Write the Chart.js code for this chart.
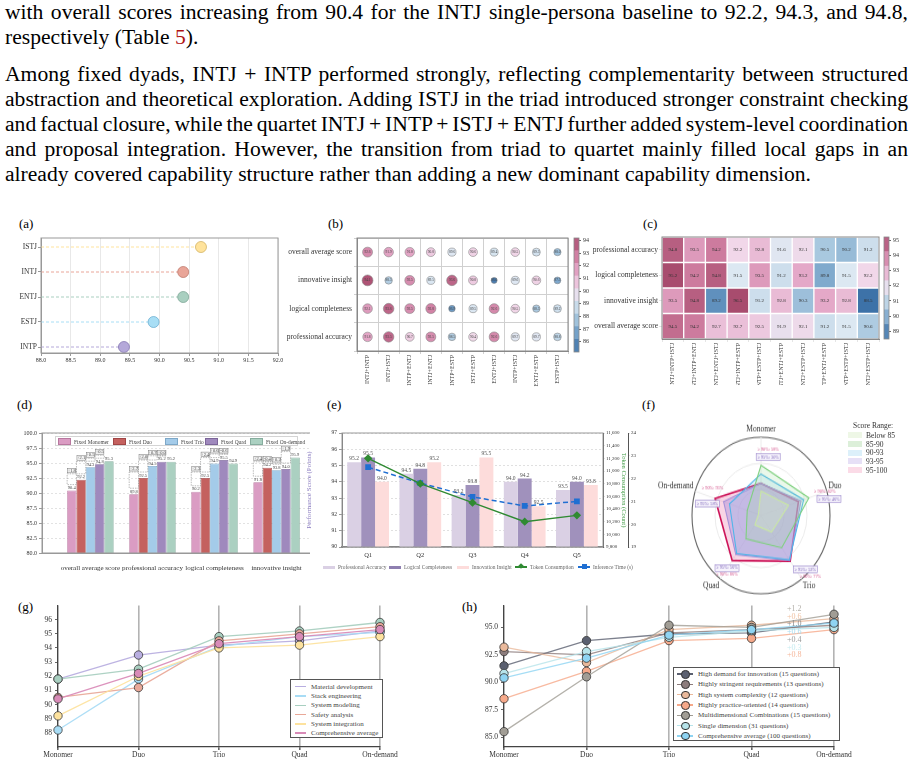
<!DOCTYPE html>
<html lang="en">
<head>
<meta charset="UTF-8">
<title>Persona team scores</title>
<script src="https://cdn.jsdelivr.net/npm/chart.js"></script>
<style>
  body { margin:0; width:915px; height:763px; position:relative; overflow:hidden; background:#fff;
         font-family:'Liberation Serif','DejaVu Serif',serif; color:#000; }
  .txt { position:absolute; left:5px; width:903px; font-size:21.6px; line-height:25px; }
  .txt .j { text-align:justify; text-align-last:justify; word-spacing:-2px; }
  .lab { position:absolute; font-size:13px; }
  .cv { position:absolute; }
  .clip { position:absolute; overflow:hidden; }
  .legend { position:absolute; font-size:6.5px; color:#444; }
  .legend .it { display:flex; align-items:center; white-space:nowrap; }
  .sw { display:inline-block; margin-right:3px; }
</style>
</head>
<body>

<div class="txt" style="top:0">
  <div class="j">with overall scores increasing from 90.4 for the INTJ single-persona baseline to 92.2, 94.3, and 94.8,</div>
  <div>respectively (Table <span style="color:#b01010">5</span>).</div>
</div>
<div class="txt" style="top:62px">
  <div class="j">Among fixed dyads, INTJ + INTP performed strongly, reflecting complementarity between structured</div>
  <div class="j">abstraction and theoretical exploration. Adding ISTJ in the triad introduced stronger constraint checking</div>
  <div class="j">and factual closure, while the quartet INTJ + INTP + ISTJ + ENTJ further added system-level coordination</div>
  <div class="j">and proposal integration. However, the transition from triad to quartet mainly filled local gaps in an</div>
  <div>already covered capability structure rather than adding a new dominant capability dimension.</div>
</div>

<div class="lab" style="left:19px;top:216px">(a)</div>
<div class="lab" style="left:328px;top:216px">(b)</div>
<div class="lab" style="left:643px;top:216px">(c)</div>
<div class="lab" style="left:17px;top:397px">(d)</div>
<div class="lab" style="left:327px;top:397px">(e)</div>
<div class="lab" style="left:642px;top:397px">(f)</div>
<div class="lab" style="left:18px;top:599px">(g)</div>
<div class="lab" style="left:462px;top:599px">(h)</div>

<canvas id="ca" class="cv" width="290" height="140" style="left:0;top:228px"></canvas>
<canvas id="cb" class="cv" width="293" height="165" style="left:282px;top:228px"></canvas>
<canvas id="cbBar" class="cv" width="30" height="135" style="left:570px;top:228px"></canvas>
<canvas id="cc" class="cv" width="292" height="157" style="left:590px;top:228px"></canvas>
<canvas id="ccBar" class="cv" width="35" height="122" style="left:880px;top:228px"></canvas>
<div class="clip" style="left:0;top:420px;width:310px;height:160px"><canvas id="cd" width="330" height="153"></canvas></div>
<div class="clip" style="left:305px;top:420px;width:335px;height:160px">
  <canvas id="ce" width="355" height="139"></canvas>
  <div id="legE" class="legend" style="left:0;top:144px;width:340px;height:10px;font-size:5.4px;color:#666"></div>
</div>
<canvas id="cf" class="cv" width="220" height="160" style="left:650px;top:419px;transform:scale(1,1.135);transform-origin:0 0"></canvas>
<canvas id="cg" class="cv" width="400" height="165" style="left:0;top:598px"></canvas>
<canvas id="ch" class="cv" width="400" height="165" style="left:455px;top:598px"></canvas>

<div id="legD" class="legend" style="left:55px;top:436px;width:243px;height:10px;border:1px solid #d4d4d4;background:#fff;font-size:5.4px;box-sizing:border-box"></div>
<div id="legF" class="legend" style="left:848px;top:421px;font-size:7.5px;color:#333"></div>
<div id="legG" class="legend" style="left:290px;top:679px;width:93px;height:59px;border:1px solid #555;background:#fff;font-size:7px;padding-top:2px;box-sizing:border-box"></div>
<div id="legH" class="legend" style="left:673px;top:667px;width:167px;height:74px;border:1px solid #555;background:#fff;font-size:7px;padding-top:1px;box-sizing:border-box"></div>
<div id="gainH" class="legend" style="left:787px;top:605px;font-size:8px;line-height:7.7px"></div>

<script>
  // ---- data ----
  const aNames = ['ISTJ', 'INTJ', 'ENTJ', 'ESTJ', 'INTP'];
  const aScores = [90.7, 90.4, 90.4, 89.9, 89.4];

  const bPairs = ['INTJ+INTP', 'INTJ+ISTJ', 'INTP+ENTJ', 'INTJ+ENTJ', 'INTP+ESTP', 'ISTJ+ESTP', 'ENTJ+ISTJ', 'INTP+ISTJ', 'ENTJ+ESTP', 'ESTP+ISTJ'];
  const bMetrics = ['overall average score', 'innovative insight', 'logical completeness', 'professional accuracy'];
  const bOverall = [92.6, 91.9, 91.8, 90.8, 89.6, 90.6, 89.4, 90.5, 89.3, 88.0];
  const bInnov = [94.1, 88.5, 92.5, 89.5, 93.6, 90.8, 86.0, 89.6, 90.6, 87.3];
  const bLogical = [92.1, 93.6, 92.5, 92.8, 86.9, 89.5, 92.6, 90.5, 88.3, 89.2];
  const bProf = [91.8, 93.5, 90.7, 92.5, 88.5, 90.4, 92.6, 89.7, 89.7, 88.8];
  const bBarTicks = [86, 87, 88, 89, 90, 91, 92, 93, 94];

  const cTriads = ['INTJ+INTP+ISTJ', 'INTJ+INTP+ENTJ', 'INTJ+ENTJ+ISTJ', 'INTJ+INTP+ESTP', 'INTP+ESTP+ISTJ',
                   'INTJ+ENTJ+ESTP', 'INTJ+ESTP+ISTJ', 'INTP+ENTJ+ESTP', 'ENTP+ESTP+ISTJ', 'ENTJ+ESTP+ISTJ'];
  const cMetrics = ['professional accuracy', 'logical completeness', 'innovative insight', 'overall average score'];
  const cProf = [94.8, 93.5, 94.2, 92.2, 92.8, 91.6, 92.1, 90.5, 90.2, 91.2];
  const cLogical = [95.2, 94.2, 94.8, 91.5, 93.5, 91.2, 93.2, 89.8, 91.5, 92.2];
  const cInnov = [93.5, 94.8, 89.2, 96.5, 91.2, 92.8, 90.3, 93.2, 92.8, 88.5];
  const cOverall = [94.5, 94.2, 92.7, 92.7, 92.5, 91.9, 92.1, 91.2, 91.5, 90.6];
  const cBarTicks = [89, 90, 91, 92, 93, 94, 95];

  const dCats = ['overall average score', 'professional accuracy', 'logical completeness', 'innovative insight'];
  const dNames = ['Fixed Monomer', 'Fixed Duo', 'Fixed Trio', 'Fixed Quad', 'Fixed On-demand'];
  const dMonomer = [90.4, 89.8, 90.2, 91.8];
  const dDuo = [92.2, 92.5, 92.5, 94.2];
  const dTrio = [94.3, 94.5, 94.9, 93.8];
  const dQuad = [94.8, 95.2, 95.5, 94.0];
  const dOnDemand = [95.3, 95.2, 94.9, 95.9];

  const eQs = ['Q1', 'Q2', 'Q3', 'Q4', 'Q5'];
  const eProf = [95.2, 94.5, 93.2, 94.0, 93.5];
  const eLogic = [95.5, 94.8, 93.8, 94.2, 94.0];
  const eInnov = [94.0, 95.2, 95.5, 92.5, 93.8];
  const eTokens = [11200, 10800, 10500, 10200, 10300];
  const eTime = [22.5, 21.8, 21.2, 20.8, 21.0];

  const fAxes = ['Monomer', 'Duo', 'Trio', 'Quad', 'On-demand'];
  const fRanges = ['Below 85', '85-90', '90-93', '93-95', '95-100'];
  const fBelow85 = [31, 42, 26, 15, 4];
  const f85to90 = [64, 73, 51, 37, 21];
  const f90to93 = [53, 65, 70, 60, 48];
  const f93to95 = [41, 61, 71, 62, 57];
  const f95to100 = [41, 57, 72, 71, 70];
  const fTag90 = ['≥ 90%: 58%', '≥ 90%: 62%', '≥ 90%: 77%', '≥ 90%: 86%', '≥ 90%: 93%'];
  const fTag95 = ['≥ 95%: 30%', '≥ 95%: 46%', '≥ 95%: 53%', '≥ 95%: 56%', '≥ 95%: 58%'];

  const teamSizes = ['Monomer', 'Duo', 'Trio', 'Quad', 'On-demand'];
  const gNames = ['Material development', 'Stack engineering', 'System modeling', 'Safety analysis', 'System integration', 'Comprehensive average'];
  const gMaterial = [91.8, 93.5, 94.2, 94.5, 95.2];
  const gStack = [88.2, 91.8, 94.1, 94.8, 95.1];
  const gModeling = [91.8, 92.5, 94.8, 95.2, 95.8];
  const gSafety = [90.5, 91.2, 94.5, 95.0, 95.5];
  const gIntegration = [89.2, 92.0, 94.0, 94.2, 94.8];
  const gAverage = [90.4, 92.2, 94.3, 94.8, 95.3];
  const gTicks = [88, 89, 90, 91, 92, 93, 94, 95, 96];

  const hNames = ['High demand for innovation (15 questions)', 'Highly stringent requirements (13 questions)',
                  'High system complexity (12 questions)', 'Highly practice-oriented (14 questions)',
                  'Multidimensional Combinations (15 questions)', 'Single dimension (31 questions)',
                  'Comprehensive average (100 questions)'];
  const hInnovation = [91.5, 93.8, 94.4, 94.5, 95.5];
  const hStringent = [92.8, 92.5, 94.5, 94.8, 95.2];
  const hComplexity = [93.2, 91.8, 94.8, 95.2, 95.8];
  const hPractice = [88.5, 91.0, 93.8, 94.0, 94.8];
  const hMulti = [85.5, 90.5, 95.2, 95.0, 96.2];
  const hSingle = [90.8, 92.8, 94.1, 94.7, 95.0];
  const hAverage = [90.4, 92.2, 94.3, 94.8, 95.4];
  const hGain = ['+1.2', '+0.6', '+1.0', '+0.6', '+0.4', '+0.3', '+0.8'];
  const hTicks = [85, 87.5, 90, 92.5, 95];

  // ---- shared setup ----
  Chart.defaults.font.family = "'Liberation Serif','DejaVu Serif',serif";
  Chart.defaults.font.size = 7;
  Chart.defaults.color = '#333';
  Chart.defaults.animation = false;
  Chart.defaults.responsive = false;
  Chart.defaults.plugins.legend.display = false;
  Chart.defaults.plugins.tooltip.enabled = false;

  Chart.register({
    id: 'frame',
    afterDraw(chart, args, opts) {
      if (!opts.color) return;
      const a = chart.chartArea, ctx = chart.ctx;
      ctx.save();
      ctx.strokeStyle = opts.color;
      ctx.lineWidth = opts.width || 1;
      ctx.strokeRect(a.left, a.top, a.right - a.left, a.bottom - a.top);
      ctx.restore();
    }
  });

  const fixW = w => s => { s.width = w; };
  const fixH = h => s => { s.height = h; };
  const setTicks = list => s => { s.ticks = list.map(v => ({ value: v })); };

  const cmapStops = [[0, [61, 114, 168]], [0.15, [111, 157, 198]], [0.3, [169, 200, 223]], [0.45, [221, 232, 242]],
                     [0.55, [241, 216, 233]], [0.7, [228, 168, 200]], [0.85, [205, 123, 158]], [1, [168, 76, 110]]];
  function cmap(v, lo, hi) {
    const t = Math.max(0, Math.min(1, (v - lo) / (hi - lo)));
    for (let i = 1; i < cmapStops.length; i++) {
      if (t <= cmapStops[i][0]) {
        const [t0, c0] = cmapStops[i - 1], [t1, c1] = cmapStops[i];
        const f = (t - t0) / (t1 - t0);
        return 'rgb(' + c0.map((c, k) => Math.round(c + (c1[k] - c) * f)).join(',') + ')';
      }
    }
  }

  function colorbar(id, lo, hi, bands, ticks, axisW, padTop, padBottom) {
    const step = (hi - lo) / bands;
    const sets = [];
    for (let k = 0; k < bands; k++) {
      sets.push({ data: [[lo + k * step, lo + (k + 1) * step]], backgroundColor: cmap(lo + (k + 0.5) * step, lo, hi),
                  grouped: false, barPercentage: 1, categoryPercentage: 1 });
    }
    new Chart(document.getElementById(id), {
      type: 'bar',
      data: { labels: [''], datasets: sets },
      options: {
        layout: { padding: { left: 4, top: padTop, bottom: padBottom } },
        plugins: { frame: { color: '#888', width: 0.8 } },
        scales: {
          x: { display: false },
          y: { position: 'right', min: lo, max: hi, afterFit: fixW(axisW), afterBuildTicks: setTicks(ticks),
               ticks: { font: { size: 6 }, padding: 2 }, grid: { drawOnChartArea: false, tickLength: 2, color: '#666' },
               border: { display: false } }
        }
      }
    });
  }

  // ---- (a) lollipop ----
  const aFill = ['#ffe39c', '#e9a598', '#a9cfc0', '#a8def5', '#b4a8d9'];
  const aEdge = ['#d3b465', '#bf7b6e', '#7fa797', '#6cafd0', '#8577b2'];
  new Chart(document.getElementById('ca'), {
    type: 'scatter',
    data: {
      datasets: aNames.map((n, i) => ({
        label: n, data: [{ x: 88, y: i }, { x: aScores[i], y: i }], showLine: true, clip: false,
        borderColor: aFill[i], borderWidth: 1, borderDash: [3, 2],
        pointRadius: [0, 5.5], pointBackgroundColor: aFill[i], pointBorderColor: aEdge[i], pointBorderWidth: 0.8
      }))
    },
    options: {
      layout: { padding: { left: 0, right: 12, top: 10, bottom: 0 } },
      plugins: { frame: { color: '#999' } },
      scales: {
        x: { min: 88, max: 92, afterFit: fixH(15),
             ticks: { stepSize: 0.5, callback: v => v.toFixed(1), font: { size: 6 }, padding: 1 },
             grid: { color: '#e8e8e8', tickLength: 3, tickColor: '#999' }, border: { color: '#999' } },
        y: { reverse: true, min: -0.36, max: 4.24, afterFit: fixW(41), afterBuildTicks: setTicks(aNames.map((n, i) => i)),
             ticks: { callback: v => aNames[v], font: { size: 7.5 }, padding: 1 },
             grid: { drawOnChartArea: false, tickLength: 3, color: '#999' }, border: { color: '#999' } }
      }
    }
  });

  // ---- (b) bubble matrix ----
  const bRows = [bOverall, bInnov, bLogical, bProf];
  const bPoints = bRows.flatMap((row, r) => row.map((v, c) => ({ x: bPairs[c], y: bMetrics[r], r: 3 + (v - 86) * 0.3, v })));
  new Chart(document.getElementById('cb'), {
    type: 'bubble',
    data: { datasets: [{ data: bPoints, clip: false,
      backgroundColor: ctx => cmap(ctx.raw.v, 85.7, 94.3), borderColor: '#8a8a8a', borderWidth: 0.6 }] },
    options: {
      layout: { padding: { left: 0, right: 7, top: 10, bottom: 0 } },
      plugins: { frame: { color: '#888' } },
      scales: {
        x: { type: 'category', labels: bPairs, offset: true, afterFit: fixH(42),
             ticks: { minRotation: 90, maxRotation: 90, font: { size: 6 }, padding: 1 },
             grid: { offset: true, color: '#d0d0d0', tickLength: 3 }, border: { color: '#888' } },
        y: { type: 'category', labels: bMetrics, offset: true, afterFit: fixW(75),
             ticks: { font: { size: 7.5 }, padding: 2 },
             grid: { offset: true, color: '#d0d0d0', tickLength: 3 }, border: { color: '#888' } }
      }
    },
    plugins: [{
      id: 'bubbleText',
      afterDatasetsDraw(chart) {
        const ctx = chart.ctx;
        ctx.save();
        ctx.font = "3.5px 'Liberation Serif'";
        ctx.fillStyle = '#444';
        ctx.textAlign = 'center';
        ctx.textBaseline = 'middle';
        chart.getDatasetMeta(0).data.forEach((el, i) => ctx.fillText(bPoints[i].v.toFixed(1), el.x, el.y));
        ctx.restore();
      }
    }]
  });
  colorbar('cbBar', 85.2, 94.2, 9, bBarTicks, 21, 10, 11);

  // ---- (c) heatmap ----
  const cRows = [cProf, cLogical, cInnov, cOverall];
  new Chart(document.getElementById('cc'), {
    type: 'bar',
    data: {
      labels: cTriads,
      datasets: cRows.map((row, r) => ({
        data: row.map(() => [3 - r, 4 - r]), values: row,
        backgroundColor: row.map(v => cmap(v, 88.5, 95.2)),
        borderColor: '#fff', borderWidth: 1, borderSkipped: false,
        grouped: false, barPercentage: 1, categoryPercentage: 1
      }))
    },
    options: {
      layout: { padding: { left: 0, right: 3, top: 9, bottom: 0 } },
      plugins: { frame: { color: '#888' } },
      scales: {
        x: { afterFit: fixH(46), ticks: { minRotation: 90, maxRotation: 90, font: { size: 6 }, padding: 1 },
             grid: { drawOnChartArea: false, tickLength: 3 }, border: { color: '#888' } },
        y: { min: 0, max: 4, afterFit: fixW(72), afterBuildTicks: setTicks([3.5, 2.5, 1.5, 0.5]),
             ticks: { callback: v => cMetrics[3 - Math.floor(v)], font: { size: 7.5 }, padding: 1 },
             grid: { drawOnChartArea: false, tickLength: 3 }, border: { color: '#888' } }
      }
    },
    plugins: [{
      id: 'cellText',
      afterDatasetsDraw(chart) {
        const ctx = chart.ctx;
        ctx.save();
        ctx.font = "5px 'Liberation Serif'";
        ctx.fillStyle = '#333';
        ctx.textAlign = 'center';
        ctx.textBaseline = 'middle';
        chart.data.datasets.forEach((ds, di) => {
          chart.getDatasetMeta(di).data.forEach((el, i) => ctx.fillText(ds.values[i].toFixed(1), el.x, (el.y + el.base) / 2));
        });
        ctx.restore();
      }
    }]
  });
  colorbar('ccBar', 88.5, 95.2, 7, cBarTicks, 26, 9, 11);

  // ---- (d) grouped bars ----
  const dSeries = [dMonomer, dDuo, dTrio, dQuad, dOnDemand];
  const dFill = ['#da9cc3', '#c4615f', '#a4cbe9', '#9f89bd', '#abd0c1'];
  const dEdge = ['#b8789f', '#a04646', '#7ea8c8', '#7c6699', '#86ad9e'];
  new Chart(document.getElementById('cd'), {
    type: 'bar',
    data: {
      datasets: dSeries.map((vals, i) => ({
        label: dNames[i], data: vals.map((v, j) => ({ x: j, y: v })),
        backgroundColor: dFill[i], borderColor: dEdge[i], borderWidth: 0.7,
        categoryPercentage: 0.75, barPercentage: 1
      }))
    },
    options: {
      layout: { padding: { left: 0, right: 5, top: 13, bottom: 0 } },
      plugins: { frame: { color: '#999' } },
      scales: {
        x: { type: 'linear', offset: false, min: -0.78, max: 3.78, afterFit: fixH(20), afterBuildTicks: setTicks(dCats.map((c, i) => i)),
             ticks: { callback: v => dCats[v], font: { size: 7 }, padding: 3, maxRotation: 0, minRotation: 0, autoSkip: false },
             grid: { display: false }, border: { color: '#999' } },
        y: { min: 80, max: 100, afterFit: fixW(42),
             ticks: { stepSize: 2.5, callback: v => v.toFixed(1), font: { size: 6 }, padding: 2 },
             grid: { color: '#e2e2e2', tickLength: 3, tickColor: '#999' }, border: { color: '#999', dash: [2, 2] } }
      }
    },
    plugins: [{
      id: 'barNotes',
      afterDatasetsDraw(chart) {
        const ctx = chart.ctx, y = chart.scales.y;
        ctx.save();
        ctx.font = "4.5px 'Liberation Serif'";
        ctx.textAlign = 'center';
        dSeries.forEach((vals, di) => {
          chart.getDatasetMeta(di).data.forEach((el, j) => {
            const w = el.width;
            ctx.fillStyle = '#444';
            ctx.fillText(vals[j].toFixed(1), el.x, el.y - 1.5);
            if (di < dSeries.length - 1) {
              const next = dSeries[di + 1][j];
              const top = y.getPixelForValue(Math.max(next, vals[j]) + 1);
              ctx.strokeStyle = '#777';
              ctx.lineWidth = 0.5;
              ctx.setLineDash([1.5, 1]);
              ctx.strokeRect(el.x - w / 2, top, w, el.y - top - 6);
              ctx.setLineDash([]);
              ctx.fillStyle = '#f4f4f4';
              ctx.fillRect(el.x - w / 2 + 0.5, top - 5.5, w - 1, 4.5);
              ctx.strokeRect(el.x - w / 2 + 0.5, top - 5.5, w - 1, 4.5);
              ctx.fillStyle = '#444';
              const d = next - vals[j];
              ctx.fillText((d >= 0 ? '+' : '') + d.toFixed(1), el.x, top - 1.8);
            }
          });
        });
        ctx.restore();
      }
    }]
  });
  const dLegX = [2, 57, 109, 149, 194];
  document.getElementById('legD').innerHTML = dNames.map((n, i) =>
    `<span class="it" style="position:absolute;left:${dLegX[i]}px;top:1px"><span class="sw" style="width:11px;height:5px;background:${dFill[i]};border:0.5px solid ${dEdge[i]}"></span>${n}</span>`).join('');

  // ---- (e) bars + two lines ----
  const eBarFill = ['#dad0e4', '#a091bc', '#fddcdb'];
  const eBarNames = ['Professional Accuracy', 'Logical Completeness', 'Innovation Insight'];
  const eBars = [eProf, eLogic, eInnov];
  new Chart(document.getElementById('ce'), {
    data: {
      labels: eQs,
      datasets: [
        { type: 'line', label: 'Token Consumption', data: eTokens, yAxisID: 'y1', borderColor: '#2f8a32', backgroundColor: '#2f8a32',
          borderWidth: 1.4, pointStyle: 'rectRot', pointRadius: 3.2, clip: false },
        { type: 'line', label: 'Inference Time (s)', data: eTime, yAxisID: 'y2', borderColor: '#1f6fd2', backgroundColor: '#1f6fd2',
          borderWidth: 1.5, borderDash: [5, 3], pointStyle: 'rect', pointRadius: 3, clip: false },
        ...eBars.map((vals, i) => ({ type: 'bar', label: eBarNames[i], data: vals, yAxisID: 'y',
          backgroundColor: eBarFill[i], categoryPercentage: 0.8, barPercentage: 1 }))
      ]
    },
    options: {
      layout: { padding: { left: 0, right: 0, top: 13, bottom: 0 } },
      plugins: { frame: { color: '#999' } },
      scales: {
        x: { afterFit: fixH(12), ticks: { font: { size: 6.5 }, padding: 1 }, grid: { display: false, tickLength: 3 },
             border: { color: '#777', width: 1.5 } },
        y: { position: 'left', min: 90, max: 97, afterFit: fixW(37),
             ticks: { stepSize: 1, font: { size: 5.5 }, padding: 2 },
             title: { display: true, text: 'Performance Score (Points)', color: '#8a7cc0', font: { size: 7 }, padding: 0 },
             grid: { color: '#e0e0e0', tickLength: 3, tickColor: '#999' }, border: { color: '#777', dash: [2, 2] } },
        y1: { position: 'right', min: 9800, max: 11600, afterFit: fixW(25),
              ticks: { stepSize: 200, font: { size: 5 }, padding: 1 },
              title: { display: true, text: 'Token Consumption (Count)', color: '#3e9a42', font: { size: 6.5 }, padding: 0 },
              grid: { drawOnChartArea: false, tickLength: 2 }, border: { color: '#555' } },
        y2: { position: 'right', min: 19, max: 24, afterFit: fixW(32),
              ticks: { stepSize: 1, font: { size: 5 }, padding: 1 },
              title: { display: true, text: 'Inference Time (s)', color: '#5aa6e2', font: { size: 6.5 }, padding: 0 },
              grid: { drawOnChartArea: false, tickLength: 2 }, border: { color: '#555' } }
      }
    },
    plugins: [{
      id: 'eBarText',
      afterDatasetsDraw(chart) {
        const ctx = chart.ctx;
        ctx.save();
        ctx.font = "5.5px 'Liberation Serif'";
        ctx.fillStyle = '#555';
        ctx.textAlign = 'center';
        eBars.forEach((vals, i) => {
          chart.getDatasetMeta(i + 2).data.forEach((el, j) => ctx.fillText(vals[j].toFixed(1), el.x, el.y - 2));
        });
        ctx.restore();
      }
    }]
  });
  const eLegX = [18, 84, 152, 210, 273];
  document.getElementById('legE').innerHTML =
    eBarNames.map((n, i) => `<span class="it" style="position:absolute;left:${eLegX[i]}px;top:0"><span class="sw" style="width:12px;height:3px;background:${i === 1 ? '#8e7fb0' : eBarFill[i]}"></span>${n}</span>`).join('') +
    `<span class="it" style="position:absolute;left:${eLegX[3]}px;top:0"><span class="sw" style="width:12px;height:1.4px;background:#2f8a32;position:relative"><span style="position:absolute;left:4px;top:-2px;width:4px;height:4px;background:#2f8a32;transform:rotate(45deg)"></span></span>Token Consumption</span>` +
    `<span class="it" style="position:absolute;left:${eLegX[4]}px;top:0"><span class="sw" style="width:12px;height:1.5px;background:#1f6fd2;position:relative"><span style="position:absolute;left:4px;top:-2px;width:5px;height:5px;background:#1f6fd2"></span></span>Inference Time (s)</span>`;

  // ---- (f) radar ----
  const fSeries = [fBelow85, f85to90, f90to93, f93to95, f95to100];
  const fLine = ['#c9e6a6', '#7fd07f', '#4db5ea', '#a590d8', '#cc1257'];
  const fArea = ['rgba(225,242,205,0.25)', 'rgba(160,222,160,0.22)', 'rgba(130,200,240,0.22)', 'rgba(180,150,220,0.5)', 'rgba(240,150,190,0.4)'];
  const fTagPos = [[7, -56, 7, -50], [62, -21, 66, -14], [48, 52, 43, 46], [-33, 50, -33, 45], [-47, -23, -52, -10]];
  new Chart(document.getElementById('cf'), {
    type: 'radar',
    data: {
      labels: fAxes,
      datasets: fSeries.map((vals, i) => ({
        label: fRanges[i], data: vals, borderColor: fLine[i], backgroundColor: fArea[i],
        borderWidth: i === 4 ? 1.6 : 1.1, fill: true, pointRadius: 0
      }))
    },
    options: {
      layout: { padding: 0 },
      scales: {
        r: { min: 0, max: 100, ticks: { display: false, stepSize: 33.34 },
             grid: { circular: true, color: c => c.index === c.chart.scales.r.ticks.length - 1 ? '#666' : '#e6e6e6',
                     lineWidth: c => c.index === c.chart.scales.r.ticks.length - 1 ? 1.1 : 0.8 },
             angleLines: { color: '#ececec' },
             pointLabels: { font: { size: 7.5 }, color: '#333', padding: 2 } }
      }
    },
    plugins: [{
      id: 'radarTags',
      afterDatasetsDraw(chart) {
        const s = chart.scales.r, ctx = chart.ctx, k = s.drawingArea / 67;
        ctx.save();
        ctx.font = "4.3px 'Liberation Serif'";
        ctx.textAlign = 'center';
        ctx.textBaseline = 'middle';
        fTagPos.forEach((p, i) => {
          ctx.fillStyle = '#d3508a';
          ctx.fillText(fTag90[i], s.xCenter + p[0] * k, s.yCenter + p[1] * k);
          const x = s.xCenter + p[2] * k, y = s.yCenter + p[3] * k;
          ctx.fillStyle = 'rgba(246,242,252,0.95)';
          ctx.strokeStyle = '#9b88cc';
          ctx.lineWidth = 0.6;
          ctx.fillRect(x - 12, y - 3, 24, 6);
          ctx.strokeRect(x - 12, y - 3, 24, 6);
          ctx.fillStyle = '#7a62b8';
          ctx.fillText(fTag95[i], x, y);
        });
        ctx.restore();
      }
    }]
  });
  const fSwatch = ['#eef7e6', '#dcefd9', '#dcf0fa', '#e6e0f6', '#fbdbe7'];
  document.getElementById('legF').innerHTML = '<div style="margin:0 0 1px 5px">Score Range:</div>' +
    fRanges.map((n, i) => `<div class="it" style="height:8.7px"><span class="sw" style="width:14px;height:6px;background:${fSwatch[i]};margin-right:4px"></span>${n}</div>`).join('');

  // ---- (g) and (h) line charts ----
  function teamLines(id, names, series, colors, edges, lineAlpha, yMin, yMax, ticks, fmt, yW, padR) {
    new Chart(document.getElementById(id), {
      type: 'line',
      data: {
        labels: teamSizes,
        datasets: series.map((vals, i) => ({
          label: names[i], data: vals, order: series.length - 1 - i, clip: false,
          borderColor: colors[i] + lineAlpha, borderWidth: 1.3,
          pointRadius: 4.2, pointBackgroundColor: colors[i], pointBorderColor: edges[i], pointBorderWidth: 0.8
        }))
      },
      options: {
        layout: { padding: { left: 0, right: padR, top: 7, bottom: 0 } },
        scales: {
          x: { offset: false, afterFit: fixH(16), ticks: { font: { size: 7.5 }, padding: 1 },
               grid: { color: '#b3b3b3', lineWidth: 1.6, tickLength: 3, tickColor: '#666' }, border: { color: '#444', width: 1.2 } },
          y: { min: yMin, max: yMax, afterFit: fixW(yW), afterBuildTicks: setTicks(ticks),
               ticks: { callback: fmt, font: { size: 7.5 }, padding: 3 },
               grid: { drawOnChartArea: false, tickLength: 3, color: '#666' }, border: { color: '#444', width: 1.2 } }
        }
      }
    });
  }
  const gColors = ['#b8aee0', '#a8dcf5', '#a8cfc0', '#e9a898', '#fde29e', '#d98bb8'];
  teamLines('cg', gNames, [gMaterial, gStack, gModeling, gSafety, gIntegration, gAverage], gColors,
            gColors.map(() => '#3a3a3a'), 'ee', 87, 97, gTicks, v => v, 58, 20);
  document.getElementById('legG').innerHTML = gNames.map((n, i) =>
    `<div class="it" style="height:9.3px;padding-left:4px"><span class="sw" style="width:11px;height:1.4px;background:${gColors[i]};margin-right:5px"></span>${n}</div>`).join('');

  const hColors = ['#5b6070', '#8c7c7c', '#eab99b', '#f6a98a', '#a19d95', '#b7e4ea', '#8fd4f2'];
  teamLines('ch', hNames, [hInnovation, hStringent, hComplexity, hPractice, hMulti, hSingle, hAverage], hColors,
            hColors.map(() => '#333'), 'cc', 84.1, 97, hTicks, v => v.toFixed(1), 49, 21);
  document.getElementById('legH').innerHTML = hNames.map((n, i) =>
    `<div class="it" style="height:10.3px;padding-left:3px"><span class="sw" style="width:16px;height:1.4px;background:${hColors[i]};position:relative;margin-right:5px">` +
    `<span style="position:absolute;left:4px;top:-3.3px;width:6.5px;height:6.5px;border-radius:50%;background:${hColors[i]};border:0.8px solid #333"></span></span>${n}</div>`).join('');
  const hGainColor = ['#b3afa8', '#f0c2a2', '#8a8a8a', '#a6dcf0', '#9c9c9c', '#c6ebf0', '#f5b79b'];
  document.getElementById('gainH').innerHTML = hGain.map((g, i) => `<div style="color:${hGainColor[i]}">${g}</div>`).join('');
</script>
</body>
</html>
